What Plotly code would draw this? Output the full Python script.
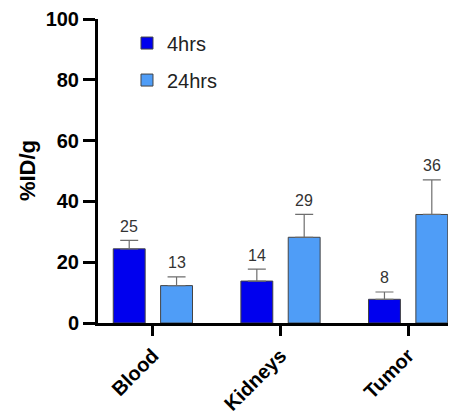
import plotly.graph_objects as go

categories = ["Blood", "Kidneys", "Tumor"]
series_names = ["4hrs", "24hrs"]
values_4h = [24.4, 13.8, 7.8]
values_24h = [12.3, 28.2, 35.7]
err_4h = [2.8, 3.9, 2.4]
err_24h = [2.9, 7.5, 11.4]
labels_4h = ["25", "14", "8"]
labels_24h = ["13", "29", "36"]
y_ticks = [0, 20, 40, 60, 80, 100]
y_title = "%ID/g"

FONT = "Arial, Liberation Sans, sans-serif"
colors = ["#0000EE", "#4F9DF7"]
BARGAP = 0.258
slot = (1 - BARGAP) / 2

fig = go.Figure()
for name, vals, errs, col in [(series_names[0], values_4h, err_4h, colors[0]),
                              (series_names[1], values_24h, err_24h, colors[1])]:
    fig.add_trace(go.Bar(
        x=categories, y=vals, name=name, legendgroup=name,
        marker=dict(color=col, line=dict(color="#444444", width=1)),
        error_y=dict(type="data", array=errs, arrayminus=[0]*len(errs), symmetric=False,
                     color="#6E6E6E", thickness=1.2, width=9),
    ))

annotations = []
for i in range(len(categories)):
    for vals, errs, labs, off in [(values_4h, err_4h, labels_4h, -slot/2),
                                  (values_24h, err_24h, labels_24h, slot/2)]:
        annotations.append(dict(
            x=i + off, y=vals[i] + errs[i], xref="x", yref="y",
            text=labs[i], showarrow=False, yshift=14,
            font=dict(family=FONT, size=16, color="#333333"),
        ))

# y-axis title placed as a rotated annotation so it can sit close to the ticks
annotations.append(dict(
    x=-0.198, y=0.5, xref="paper", yref="paper", xanchor="center", yanchor="middle",
    text=y_title, textangle=-90, showarrow=False,
    font=dict(family=FONT, size=22, color="black", weight="bold"),
))

fig.update_layout(
    width=456, height=411,
    margin=dict(l=90, r=8, t=11, b=96),
    paper_bgcolor="white", plot_bgcolor="white",
    barmode="group", bargap=BARGAP, bargroupgap=0.326,
    font=dict(family=FONT, color="black"),
    showlegend=True,
    legend=dict(x=0.081, y=0.985, xanchor="left", yanchor="top",
                font=dict(family=FONT, size=20, color="#222222"),
                bgcolor="rgba(0,0,0,0)", tracegroupgap=8),
    annotations=annotations,
    xaxis=dict(
        type="category", range=[-0.43, 2.375], automargin=False,
        showline=True, linecolor="black", linewidth=3,
        ticks="outside", ticklen=10, tickwidth=3, tickcolor="black",
        tickangle=-45,
        tickfont=dict(family=FONT, size=20, color="black", weight="bold"),
        showgrid=False, zeroline=False,
    ),
    yaxis=dict(
        range=[0, 100], tickvals=y_ticks, automargin=False,
        showline=True, linecolor="black", linewidth=3,
        ticks="outside", ticklen=12, tickwidth=3, tickcolor="black",
        tickfont=dict(family=FONT, size=20, color="black", weight="bold"),
        showgrid=False, zeroline=False,
    ),
)

fig.write_html("out.html")
